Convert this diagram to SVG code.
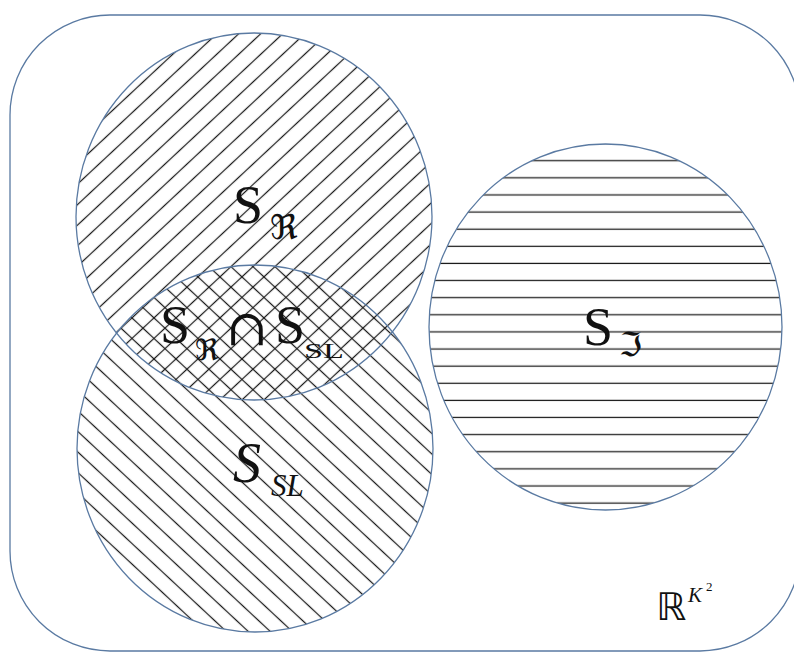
<svg xmlns="http://www.w3.org/2000/svg" width="794" height="652" viewBox="0 0 794 652">
  <style>
    .outline { fill: none; stroke: #5a7aa2; stroke-width: 1.3; }
    .hatch { stroke: #1a1a1a; stroke-width: 1.25; }
    .serif { font-family: "Liberation Serif", "DejaVu Serif", serif; fill: #111; }
    .math { font-family: "DejaVu Serif", "DejaVu Sans", serif; fill: #111; }
    .sans { font-family: "DejaVu Sans", "Liberation Sans", sans-serif; fill: #111; }
  </style>
  <defs>
    <pattern id="hatchUp" patternUnits="userSpaceOnUse" width="15" height="15" patternTransform="rotate(-43)">
      <line class="hatch" x1="0" y1="7.5" x2="15" y2="7.5"/>
    </pattern>
    <pattern id="hatchDown" patternUnits="userSpaceOnUse" width="15" height="15" patternTransform="rotate(43)">
      <line class="hatch" x1="0" y1="7.5" x2="15" y2="7.5"/>
    </pattern>
    <pattern id="hatchH" patternUnits="userSpaceOnUse" x="0" y="15.74" width="20" height="17.12">
      <line class="hatch" x1="0" y1="8" x2="20" y2="8"/>
    </pattern>
  </defs>

  <rect x="0" y="0" width="794" height="652" fill="#ffffff"/>

  <g id="universe">
    <rect class="outline" x="10" y="15" width="790" height="636" rx="100" ry="100"/>
    <text class="sans" x="656" y="620" font-size="38">ℝ</text>
    <text class="serif" x="688" y="602" font-size="21" font-style="italic">K</text>
    <text class="serif" x="706" y="591" font-size="13">2</text>
  </g>

  <g id="set-R">
    <ellipse cx="254" cy="216.5" rx="178" ry="183.5" fill="url(#hatchUp)"/>
  </g>
  <g id="set-SL">
    <ellipse cx="255" cy="448.5" rx="178" ry="183.5" fill="url(#hatchDown)"/>
  </g>
  <g id="set-I">
    <ellipse cx="605.5" cy="327" rx="176.5" ry="183" fill="url(#hatchH)"/>
  </g>

  <g id="outlines">
    <ellipse class="outline" cx="254" cy="216.5" rx="178" ry="183.5"/>
    <ellipse class="outline" cx="255" cy="448.5" rx="178" ry="183.5"/>
    <ellipse class="outline" cx="605.5" cy="327" rx="176.5" ry="183"/>
  </g>

  <g id="label-R">
    <text class="serif" x="233" y="223" font-size="54">S</text>
    <text class="math" x="270" y="239" font-size="34">ℜ</text>
  </g>
  <g id="label-intersection">
    <text class="serif" x="160" y="343" font-size="54">S</text>
    <text class="math" x="195" y="360" font-size="29">ℜ</text>
    <text class="math" x="226" y="345" font-size="50">∩</text>
    <text class="serif" x="275" y="343" font-size="54">S</text>
    <text class="serif" x="304" y="358" font-size="21" textLength="40" lengthAdjust="spacingAndGlyphs">SL</text>
  </g>
  <g id="label-SL">
    <text class="serif" x="233" y="482" font-size="56" font-style="italic">S</text>
    <text class="serif" x="271" y="496" font-size="31" font-style="italic">SL</text>
  </g>
  <g id="label-I">
    <text class="serif" x="583" y="345" font-size="54">S</text>
    <text class="math" x="619" y="356" font-size="33">ℑ</text>
  </g>
</svg>
